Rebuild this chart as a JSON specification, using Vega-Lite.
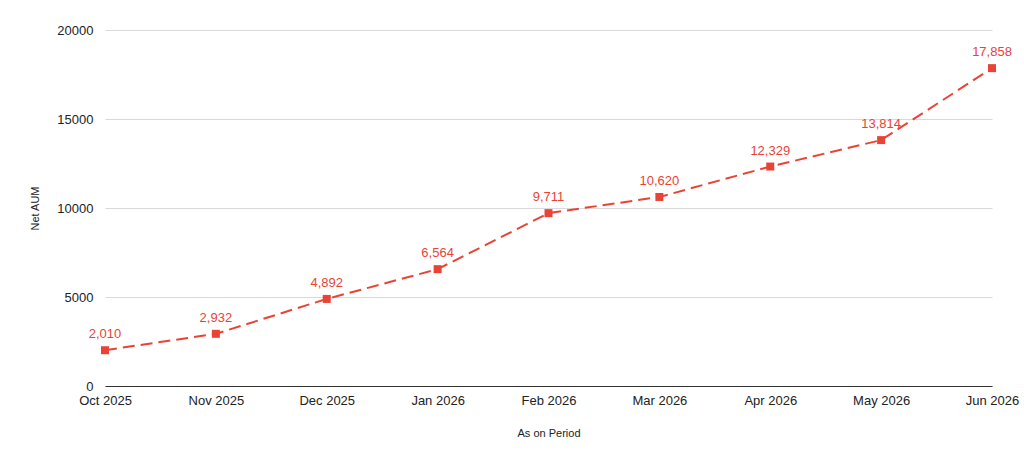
{
  "$schema": "https://vega.github.io/schema/vega-lite/v6.json",
  "width": 887,
  "height": 356,
  "autosize": "none",
  "padding": {"left": 105, "top": 30, "right": 32, "bottom": 74},
  "background": "white",
  "config": {
    "font": "Liberation Sans",
    "view": {"stroke": null}
  },
  "data": {
    "values": [
      {"period": "Oct 2025", "aum": 2010},
      {"period": "Nov 2025", "aum": 2932},
      {"period": "Dec 2025", "aum": 4892},
      {"period": "Jan 2026", "aum": 6564},
      {"period": "Feb 2026", "aum": 9711},
      {"period": "Mar 2026", "aum": 10620},
      {"period": "Apr 2026", "aum": 12329},
      {"period": "May 2026", "aum": 13814},
      {"period": "Jun 2026", "aum": 17858}
    ]
  },
  "encoding": {
    "x": {
      "field": "period",
      "type": "ordinal",
      "sort": null,
      "scale": {"type": "point", "padding": 0},
      "axis": {
        "title": "As on Period",
        "titleFontSize": 11,
        "titleFontWeight": "normal",
        "titleColor": "#222",
        "titlePadding": 20,
        "labelAngle": 0,
        "labelFontSize": 13,
        "labelColor": "#222",
        "labelPadding": 8,
        "ticks": false,
        "domainColor": "#333",
        "grid": false
      }
    },
    "y": {
      "field": "aum",
      "type": "quantitative",
      "scale": {"domain": [0, 20000]},
      "axis": {
        "title": "Net AUM",
        "titleFontSize": 11,
        "titleFontWeight": "normal",
        "titleColor": "#222",
        "titlePadding": 16,
        "values": [0, 5000, 10000, 15000, 20000],
        "format": "d",
        "labelFontSize": 13,
        "labelColor": "#222",
        "labelPadding": 12,
        "ticks": false,
        "domain": false,
        "gridColor": "#d9d9d9"
      }
    }
  },
  "layer": [
    {
      "mark": {"type": "line", "color": "#ea4335", "strokeWidth": 2, "strokeDash": [12, 6]}
    },
    {
      "mark": {"type": "point", "shape": "square", "filled": true, "size": 64, "color": "#ea4335", "opacity": 1}
    },
    {
      "mark": {"type": "text", "baseline": "bottom", "dy": -9, "fontSize": 13, "color": "#ea4335"},
      "encoding": {"text": {"field": "aum", "type": "quantitative", "format": ","}}
    }
  ]
}
